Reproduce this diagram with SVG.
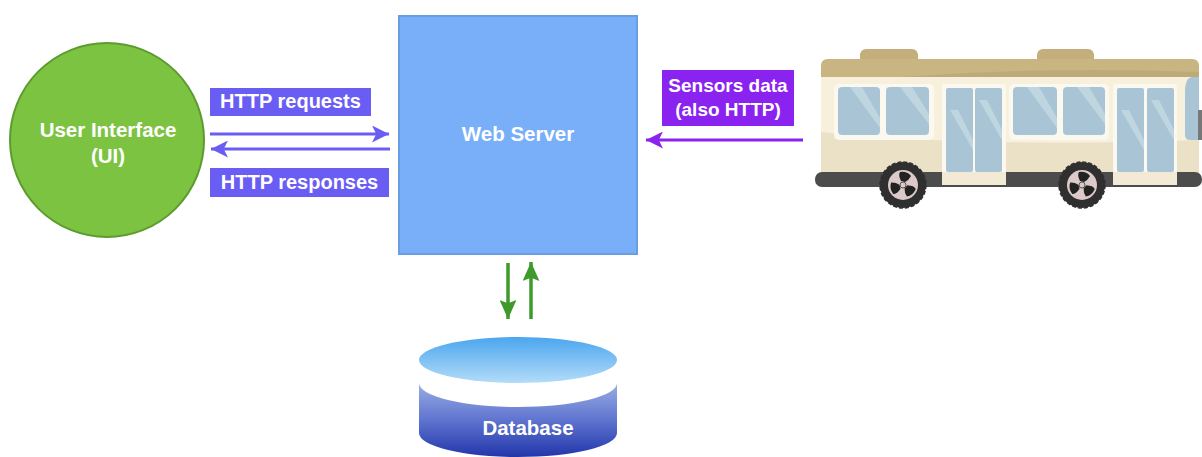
<svg xmlns="http://www.w3.org/2000/svg" width="1202" height="457" viewBox="0 0 1202 457">
  <style>
    .lbl { font-family: "Liberation Sans", Arial, sans-serif; font-weight: bold; font-size: 20.5px; fill: #ffffff; text-anchor: middle; }
    .tag { font-family: "Liberation Sans", Arial, sans-serif; font-weight: bold; font-size: 20px; fill: #ffffff; text-anchor: middle; }
    .tag-s { font-family: "Liberation Sans", Arial, sans-serif; font-weight: bold; font-size: 19px; fill: #ffffff; text-anchor: middle; }
    .blue { stroke: #6a5df4; stroke-width: 3; fill: none; }
    .violet { stroke: #8a22f0; stroke-width: 3; fill: none; }
    .green { stroke: #3d9a2b; stroke-width: 3.5; fill: none; }
    .win { fill: #a9c5d5; }
    .streak { fill: #c4d9e4; opacity: 0.8; }
  </style>
  <defs>
    <marker id="arrowBlue" viewBox="0 0 16 16" refX="16" refY="8" markerWidth="17" markerHeight="17" markerUnits="userSpaceOnUse" orient="auto">
      <path d="M0,0 L16,8 L0,16 L4,8 Z" fill="#6a5df4"/>
    </marker>
    <marker id="arrowViolet" viewBox="0 0 16 16" refX="16" refY="8" markerWidth="17" markerHeight="17" markerUnits="userSpaceOnUse" orient="auto">
      <path d="M0,0 L16,8 L0,16 L4,8 Z" fill="#8a22f0"/>
    </marker>
    <marker id="arrowGreen" viewBox="0 0 18 16" refX="18" refY="8" markerWidth="19" markerHeight="17" markerUnits="userSpaceOnUse" orient="auto">
      <path d="M0,0 L18,8 L0,16 L3,8 Z" fill="#3d9a2b"/>
    </marker>
    <linearGradient id="lidGrad" x1="0" y1="0" x2="0" y2="1">
      <stop offset="0" stop-color="#4ba6ef"/>
      <stop offset="1" stop-color="#b3dcf8"/>
    </linearGradient>
    <linearGradient id="bodyGrad" x1="0" y1="0" x2="0" y2="1">
      <stop offset="0" stop-color="#9aaee3"/>
      <stop offset="0.5" stop-color="#5f74cf"/>
      <stop offset="1" stop-color="#2236aa"/>
    </linearGradient>
    <!-- one hub blade, repeated three times per wheel -->
    <path id="blade" d="M-2,-4 Q-5,-10 -3,-13 Q4,-14 8,-9 Q6,-5 2,-3 Z" fill="#222222"/>
    <g id="wheel">
      <circle r="23" fill="#2f2f2f" stroke="#2f2f2f" stroke-width="1.5" stroke-dasharray="4 2"/>
      <circle r="15" fill="#dccaca"/>
      <use href="#blade"/>
      <use href="#blade" transform="rotate(120)"/>
      <use href="#blade" transform="rotate(240)"/>
      <circle r="3" fill="#dccaca" stroke="#555555" stroke-width="1"/>
    </g>
  </defs>

  <rect width="1202" height="457" fill="#ffffff"/>

  <!-- User Interface -->
  <g id="ui">
    <circle cx="107" cy="140" r="97" fill="#7dc342" stroke="#5c9c2e" stroke-width="2"/>
    <text class="lbl" x="108" y="137">User Interface</text>
    <text class="lbl" x="108" y="163">(UI)</text>
  </g>

  <!-- Web Server -->
  <g id="web-server">
    <rect x="399" y="16" width="238" height="238" fill="#79aff8" stroke="#6a9de2" stroke-width="2"/>
    <text class="lbl" x="518" y="141">Web Server</text>
  </g>

  <!-- Database cylinder -->
  <g id="database">
    <path d="M419,383 A99,24 0 0 0 617,383 L617,433 A99,24 0 0 1 419,433 Z" fill="url(#bodyGrad)"/>
    <ellipse cx="518" cy="360" rx="99" ry="23" fill="url(#lidGrad)"/>
    <text class="lbl" x="528" y="435">Database</text>
  </g>

  <!-- Bus -->
  <g id="bus">
    <!-- roof vents -->
    <rect x="860" y="49" width="58" height="16" rx="6" fill="#c3ae7c"/>
    <rect x="1037" y="49" width="57" height="16" rx="6" fill="#c3ae7c"/>
    <!-- body -->
    <rect x="821" y="59" width="378" height="118" rx="7" fill="#f6f0dd"/>
    <path d="M821,66 Q821,59 828,59 L1192,59 Q1199,59 1199,66 L1199,77 L821,77 Z" fill="#c8b582"/>
    <path d="M900,77 Q1050,66 1199,72 L1199,77 Z" fill="#b8a471" opacity="0.6"/>
    <!-- lower body shade -->
    <path d="M821,132 Q900,140 1000,142 Q1100,144 1199,140 L1199,174 L821,174 Z" fill="#ebe1c7"/>
    <!-- window frames -->
    <rect x="834" y="84" width="100" height="56" rx="5" fill="#fbf8ef"/>
    <rect x="942" y="84" width="64" height="102" rx="3" fill="#fbf8ef"/>
    <rect x="1009" y="84" width="100" height="56" rx="5" fill="#fbf8ef"/>
    <rect x="1113" y="84" width="64" height="102" rx="3" fill="#fbf8ef"/>
    <!-- bumper -->
    <rect x="815" y="172" width="387" height="15" rx="7" fill="#4c4c4c"/>
    <rect x="942" y="172" width="64" height="13" fill="#f2ead4"/>
    <rect x="1113" y="172" width="64" height="13" fill="#f2ead4"/>
    <!-- side windows -->
    <rect class="win" x="838" y="87" width="42" height="48" rx="4"/>
    <rect class="win" x="886" y="87" width="43" height="48" rx="4"/>
    <rect class="win" x="1013" y="87" width="44" height="48" rx="4"/>
    <rect class="win" x="1063" y="87" width="42" height="48" rx="4"/>
    <!-- doors -->
    <rect class="win" x="946" y="88" width="27" height="84" rx="2"/>
    <rect class="win" x="975" y="88" width="27" height="84" rx="2"/>
    <rect class="win" x="1117" y="88" width="27" height="84" rx="2"/>
    <rect class="win" x="1147" y="88" width="27" height="84" rx="2"/>
    <!-- glass streaks -->
    <path class="streak" d="M850,87 L862,87 L880,118 L880,128 Z"/>
    <path class="streak" d="M900,87 L912,87 L929,114 L929,124 Z"/>
    <path class="streak" d="M1027,87 L1039,87 L1057,118 L1057,128 Z"/>
    <path class="streak" d="M1077,87 L1089,87 L1105,114 L1105,124 Z"/>
    <path class="streak" d="M950,110 L958,110 L973,140 L973,150 Z"/>
    <path class="streak" d="M979,100 L987,100 L1002,130 L1002,140 Z"/>
    <path class="streak" d="M1121,110 L1129,110 L1144,140 L1144,150 Z"/>
    <path class="streak" d="M1151,100 L1159,100 L1174,130 L1174,140 Z"/>
    <!-- windshield edge -->
    <path d="M1192,77 Q1185,78 1185,92 L1185,135 Q1185,140 1190,140 L1199,140 L1199,77 Z" fill="#a9c5d5"/>
    <rect x="1198" y="110" width="4" height="30" fill="#777777"/>
    <!-- wheels -->
    <use href="#wheel" transform="translate(903,185)"/>
    <use href="#wheel" transform="translate(1082,185)"/>
  </g>

  <!-- Connectors and their labels -->
  <g id="connectors">
    <rect x="210" y="88" width="161" height="28" fill="#6a5df4"/>
    <text class="tag" x="290.5" y="108">HTTP requests</text>
    <path class="blue" d="M210,134 L389,134" marker-end="url(#arrowBlue)"/>
    <path class="blue" d="M390,149 L211,149" marker-end="url(#arrowBlue)"/>
    <rect x="210" y="168" width="179" height="29" fill="#6a5df4"/>
    <text class="tag" x="299.5" y="189">HTTP responses</text>

    <rect x="662" y="70" width="132" height="56" fill="#8a22f0"/>
    <text class="tag-s" x="728" y="92">Sensors data</text>
    <text class="tag-s" x="728" y="116">(also HTTP)</text>
    <path class="violet" d="M803,140 L646,140" marker-end="url(#arrowViolet)"/>

    <path class="green" d="M508,263 L508,319" marker-end="url(#arrowGreen)"/>
    <path class="green" d="M531,319 L531,262" marker-end="url(#arrowGreen)"/>
  </g>
</svg>
